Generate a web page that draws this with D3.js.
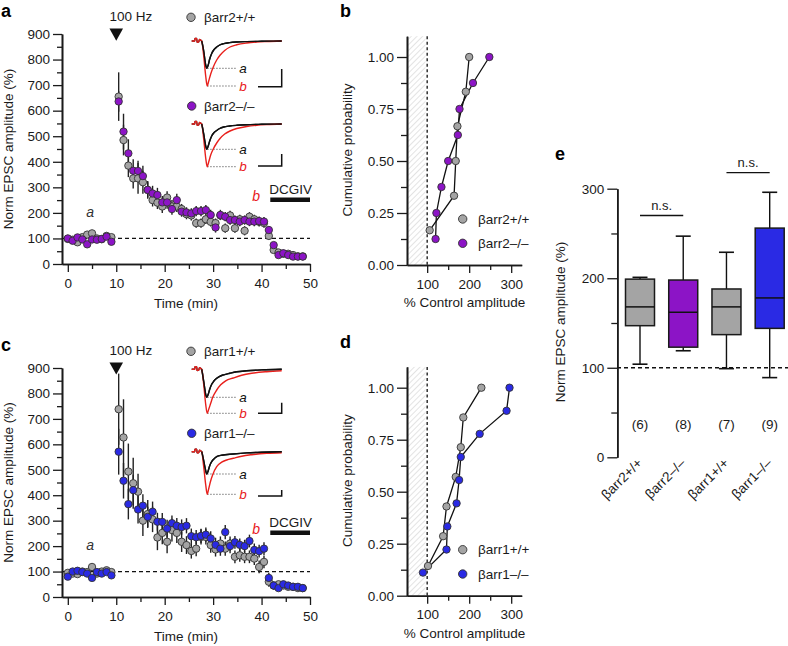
<!DOCTYPE html>
<html><head><meta charset="utf-8">
<script src="https://cdn.jsdelivr.net/npm/d3@7"></script>
<style>
body{margin:0;background:#fff}
svg text{font-family:"Liberation Sans",Arial,Helvetica,sans-serif}
</style></head>
<body><svg id="fig" width="788" height="646"></svg>
<script>
// ---------------- DATA ----------------
const timeMin = [0,1,2,3,4,5,6,7,8,9,10.5,11.5,12.5,13.5,14.5,15.5,16.5,17.5,18.5,19.5,20.5,21.5,22.5,23.5,24.5,25.5,26.5,27.5,28.5,29.5,30.5,31.5,32.5,33.5,34.5,35.5,36.5,37.5,38.5,39.5,40.5,41.5,42.5,43.5,44.5,45.5,46.5,47.5,48.5];

const arr2WT = [98,95,85,105,115,120,100,97,110,105,
  655,485,385,335,335,320,290,250,240,225,260,225,225,215,195,190,160,160,175,165,160,190,140,190,140,175,130,185,175,165,160,110,55,45,40,40,35,30,30];
const arr2WTerr = [10,10,10,10,12,12,10,10,10,10,
  95,60,45,40,60,45,30,25,25,25,25,25,22,20,20,20,18,18,18,18,18,18,18,18,18,18,18,18,18,18,18,15,12,10,8,8,8,8,8];
const arr2KO = [100,91,104,96,77,96,95,98,107,87,
  636,518,433,365,364,344,290,276,270,241,241,215,250,205,202,198,207,207,211,192,143,192,185,172,172,166,172,166,166,168,166,133,74,35,42,35,29,29,29];
const arr2KOerr = [10,10,10,10,12,12,10,10,10,10,
  40,70,55,45,40,40,35,30,28,25,25,22,25,20,20,20,20,20,20,20,20,20,18,18,18,18,18,18,18,18,18,15,12,10,8,8,8,8,8];

const arr1WT = [95,92,90,100,98,118,92,100,105,98,
  738,627,493,447,414,300,326,305,234,252,217,263,252,217,204,181,190,236,236,204,187,210,190,210,158,164,158,158,151,118,138,60,45,50,45,40,40,35,35];
const arr1WTerr = [10,10,10,10,12,12,10,10,10,10,
  140,150,110,100,70,60,55,50,50,45,45,45,40,40,35,30,30,30,30,30,28,28,28,28,25,25,25,25,25,25,25,20,15,10,10,10,8,8,8];
const arr1KO = [80,100,103,98,92,75,98,92,98,85,
  571,457,365,420,344,359,315,335,296,295,269,290,280,275,280,239,235,240,245,230,205,190,255,200,215,205,200,220,185,180,190,75,45,35,50,45,40,40,35];
const arr1KOerr = [10,10,10,10,12,12,10,10,10,10,
  90,70,60,60,55,45,40,40,35,35,35,30,30,30,30,30,28,28,28,28,28,28,28,28,25,25,25,25,25,25,25,20,15,10,10,10,8,8,8];

// cumulative distributions (% control amplitude, cumulative probability)
const cdfArr2WT = [106,164,168,172,192,200];
const probArr2WT = [0.167,0.333,0.5,0.667,0.833,1.0];
const cdfArr2KO = [120,122,134,150,173,177,209,248];
const probArr2KO = [0.125,0.25,0.375,0.5,0.625,0.75,0.875,1.0];
const cdfArr1WT = [102,138,146,168,180,186,229];
const probArr1WT = [0.143,0.286,0.429,0.571,0.714,0.857,1.0];
const cdfArr1KO = [90,146,148,170,176,180,225,289,296];
const probArr1KO = [0.111,0.222,0.333,0.444,0.556,0.667,0.778,0.889,1.0];

// box plot (panel e)
const boxGroups = ["βarr2+/+","βarr2–/–","βarr1+/+","βarr1–/–"];
const boxMin = [104,119,99,89];
const boxQ1  = [147,123,137,144];
const boxMed = [168,162,168,178];
const boxQ3  = [199,198,188,256];
const boxMax = [201,247,229,296];
const boxN   = ["(6)","(8)","(7)","(9)"];

// example EPSC traces (ms, pA-like units)
const artifactTrace = [[0,0],[3,0],[3.3,2.6],[5,2.6],[5.4,-1.2],[7,-0.8],[7.8,1.6],[9.3,0.6],[10,0]];
const traceA1Black = [[10,0],[12,-10],[14,-24],[15,-27.3],[16.5,-24],[18,-18],[20,-12.5],[22,-9],[25,-6],[28,-4],[32,-2.6],[38,-1.6],[45,-1],[55,-0.6],[70,-0.3],[90,0]];
const traceA1Red   = [[10,0],[12,-15],[14,-35],[15.5,-45],[17,-40],[19,-33],[21.6,-26],[25,-19],[28.3,-14.3],[33,-9.5],[38.3,-6],[45,-3.8],[55,-2],[65,-1],[75,-0.5],[90,0]];
const traceA2Black = [[10,0],[12,-10],[14,-22],[15,-25.3],[16.5,-22],[18,-17],[20,-12],[22,-9],[25,-6.5],[28,-4.5],[32,-3],[38,-2],[45,-1.3],[55,-0.7],[70,-0.3],[90,0]];
const traceA2Red   = [[10,0],[12,-15],[14,-34],[15.5,-42.7],[17,-38],[19,-31],[21.6,-25],[25,-19],[28.3,-14.5],[33,-10],[38.3,-7],[45,-4.5],[55,-2.5],[65,-1.3],[75,-0.6],[90,0]];
const traceC1Black = [[10,0],[12,-12],[14,-25],[15,-28],[16.5,-25],[18,-20],[20,-15],[22,-12],[25,-9],[28,-7],[32,-5.5],[38,-4],[45,-2.5],[55,-1.5],[70,-0.6],[90,0]];
const traceC1Red   = [[10,0],[12,-15],[14,-35],[15.5,-44],[17,-40],[19,-34],[21,-28],[25,-20.7],[29,-15.5],[34,-11.5],[41.6,-8.7],[50,-6],[60,-4],[75,-2.4],[90,-1.5]];
const traceC2Black = [[10,0],[12,-9],[14,-19],[15,-22.3],[16.5,-19],[18,-14],[20,-10],[22,-7.5],[25,-5],[30,-3.5],[41.6,-2.3],[55,-1.2],[70,-0.5],[90,0]];
const traceC2Red   = [[10,0],[12,-15],[14,-33],[15.5,-42.6],[17,-37],[19,-29],[21,-23],[25,-15],[30,-10.5],[35,-8.3],[41.6,-6.6],[50,-4.5],[60,-3],[75,-1.6],[90,-1]];

// ---------------- STYLE ----------------
const GRAY = "#a4a4a4", PURPLE = "#8c14c6", BLUE = "#2a2ae4", RED = "#e8201c", EDGE = "#333", INK = "#1a1a1a";
const svg = d3.select("#fig");
const defs = svg.append("defs");
const pat = defs.append("pattern").attr("id","hatch").attr("patternUnits","userSpaceOnUse")
  .attr("width",4).attr("height",4).attr("patternTransform","rotate(45)");
pat.append("line").attr("x1",0).attr("y1",0).attr("x2",0).attr("y2",4).attr("stroke","#c8c8c8").attr("stroke-width",1);

function styleAxis(sel){
  sel.selectAll(".domain").attr("stroke",INK).attr("stroke-width",1.6);
  sel.selectAll(".tick line").attr("stroke",INK).attr("stroke-width",1.3);
  sel.selectAll(".tick text").attr("font-size","13.5px").style("fill",INK)
     .attr("font-family",'"Liberation Sans",Arial,sans-serif');
}
function leftAxis(g, scale, x0, majors, minors, fmt, maj, min){
  const a = g.append("g").attr("transform",`translate(${x0},0)`)
    .call(d3.axisLeft(scale).tickValues(majors).tickFormat(fmt).tickSize(maj).tickSizeOuter(0).tickPadding(3));
  const b = g.append("g").attr("transform",`translate(${x0},0)`)
    .call(d3.axisLeft(scale).tickValues(minors).tickFormat("").tickSize(min).tickSizeOuter(0));
  styleAxis(a); styleAxis(b);
}
function bottomAxis(g, scale, y0, majors, minors, fmt, maj, min, pad){
  const a = g.append("g").attr("transform",`translate(0,${y0})`)
    .call(d3.axisBottom(scale).tickValues(majors).tickFormat(fmt).tickSize(maj).tickSizeOuter(0).tickPadding(pad));
  const b = g.append("g").attr("transform",`translate(0,${y0})`)
    .call(d3.axisBottom(scale).tickValues(minors).tickFormat("").tickSize(min).tickSizeOuter(0));
  styleAxis(a); styleAxis(b);
}
function txt(g, x, y, s, o={}){
  const t = g.append("text").attr("x",x).attr("y",y).text(s)
    .attr("font-size",o.size||"13px").attr("text-anchor",o.anchor||"start")
    .style("fill", o.fill || INK);
  if(o.weight) t.attr("font-weight",o.weight);
  if(o.style) t.attr("font-style",o.style);
  if(o.rotate!==undefined) t.attr("transform",`rotate(${o.rotate},${x},${y})`);
  return t;
}

// ---------------- INSET TRACES ----------------
function inset(g, x0, yBase, black, red, barTop, barBot){
  const x = d3.scaleLinear().domain([0,90]).range([x0, x0+90]);
  const y = d3.scaleLinear().domain([0,-50]).range([yBase, yBase+50]);
  const line = d3.line().x(d=>x(d[0])).y(d=>y(d[1])).curve(d3.curveMonotoneX);
  const pkB = d3.min(black, d=>d[1]), pkR = d3.min(red, d=>d[1]);
  g.append("line").attr("x1",x(15.5)).attr("x2",x(45)).attr("y1",y(pkB)).attr("y2",y(pkB))
    .attr("stroke","#777").attr("stroke-width",1).attr("stroke-dasharray","1.5,1.5");
  g.append("line").attr("x1",x(15.5)).attr("x2",x(45)).attr("y1",y(pkR)).attr("y2",y(pkR))
    .attr("stroke","#777").attr("stroke-width",1).attr("stroke-dasharray","1.5,1.5");
  g.append("path").attr("d",line(artifactTrace.concat(black.slice(1)))).attr("fill","none").attr("stroke","#111").attr("stroke-width",1.4);
  g.append("path").attr("d",line(artifactTrace.concat(red.slice(1)))).attr("fill","none").attr("stroke",RED).attr("stroke-width",1.4);
  g.append("path").attr("d",line(black)).attr("fill","none").attr("stroke","#111").attr("stroke-width",1.4);
  txt(g, x(47.5), y(pkB)+4.5, "a", {style:"italic", size:"13.5px", fill:"#111"});
  txt(g, x(47.5), y(pkR)+4.5, "b", {style:"italic", size:"13.5px", fill:RED});
  g.append("path").attr("d",`M${x(66.3)},${y(barBot)}H${x(90)}V${y(barTop)}`)
    .attr("fill","none").attr("stroke","#111").attr("stroke-width",1.5);
}

// ---------------- TIME COURSE PANELS ----------------
function timePanel(o){
  const g = svg.append("g");
  const x = d3.scaleLinear().domain([-1.2,50]).range([62,310]);
  const y = d3.scaleLinear().domain([0,900]).range([o.y0, o.y900]);
  g.append("line").attr("x1",x(-1.2)).attr("x2",x(50)).attr("y1",y(100)).attr("y2",y(100))
    .attr("stroke","#111").attr("stroke-width",1.3).attr("stroke-dasharray","4,3");
  [o.wt, o.ko].forEach(s=>{
    g.append("g").selectAll("line").data(timeMin).join("line")
      .attr("x1",d=>x(d)).attr("x2",d=>x(d))
      .attr("y1",(d,i)=>y(Math.max(0,s.v[i]-s.e[i]))).attr("y2",(d,i)=>y(s.v[i]+s.e[i]))
      .attr("stroke","#222").attr("stroke-width",1.4);
  });
  [o.wt, o.ko].forEach(s=>{
    g.append("g").selectAll("circle").data(timeMin).join("circle")
      .attr("cx",d=>x(d)).attr("cy",(d,i)=>y(s.v[i])).attr("r",3.7)
      .attr("fill",s.c).attr("stroke",EDGE).attr("stroke-width",0.9);
  });
  leftAxis(g, y, 62, d3.range(0,901,100), d3.range(50,900,100), d3.format("d"), 9, 5);
  bottomAxis(g, x, o.y0, [0,10,20,30,40,50], [5,15,25,35,45], d3.format("d"), 8, 5, 6);
  txt(g, 13, (o.y0+o.y900)/2, "Norm EPSC amplitude (%)", {anchor:"middle", rotate:-90, size:"13.5px"});
  txt(g, 186, o.y0+44, "Time (min)", {anchor:"middle", size:"13.5px"});
  txt(g, 1, o.y900-17, o.letter, {weight:"bold", size:"18px", fill:"#000"});
  g.append("path").attr("d",`M${x(10)-6.8},${y(922)}H${x(10)+6.8}L${x(10)},${y(874)}Z`).attr("fill","#111");
  txt(g, x(13), y(952), "100 Hz", {anchor:"middle", size:"13.5px"});
  txt(g, x(4.6), o.y0-47, "a", {anchor:"middle", style:"italic", size:"14px", fill:"#333"});
  txt(g, x(38.9), o.y0-63, "b", {anchor:"middle", style:"italic", size:"14px", fill:RED});
  txt(g, x(46), o.y0-70.5, "DCGIV", {anchor:"middle", size:"13.5px"});
  g.append("rect").attr("x",x(41.8)).attr("width",x(50)-x(41.8)).attr("y",o.y0-66.5).attr("height",4.5).attr("fill","#111");
  g.append("circle").attr("cx",191).attr("cy",o.y900-16.7).attr("r",4.2).attr("fill",GRAY).attr("stroke",EDGE).attr("stroke-width",0.9);
  txt(g, 204, o.y900-12, o.wtName, {size:"13.5px"});
  g.append("circle").attr("cx",191.7).attr("cy",o.y900+o.leg2).attr("r",4.2).attr("fill",o.ko.c).attr("stroke",EDGE).attr("stroke-width",0.9);
  txt(g, 204, o.y900+o.leg2+4.6, o.koName, {size:"13.5px"});
  inset(g, 191.7, o.in1, o.tr[0], o.tr[1], o.bar1[0], o.bar1[1]);
  inset(g, 191.7, o.in2, o.tr[2], o.tr[3], o.bar2[0], o.bar2[1]);
}

timePanel({y0:264, y900:34, letter:"a", wtName:"βarr2+/+", koName:"βarr2–/–",
  wt:{v:arr2WT, e:arr2WTerr, c:GRAY}, ko:{v:arr2KO, e:arr2KOerr, c:PURPLE}, leg2:72,
  in1:41, in2:124, tr:[traceA1Black,traceA1Red,traceA2Black,traceA2Red], bar1:[-28,-45.7], bar2:[-30,-42]});
timePanel({y0:597, y900:368, letter:"c", wtName:"βarr1+/+", koName:"βarr1–/–",
  wt:{v:arr1WT, e:arr1WTerr, c:GRAY}, ko:{v:arr1KO, e:arr1KOerr, c:BLUE}, leg2:65.3,
  in1:369.3, in2:451.7, tr:[traceC1Black,traceC1Red,traceC2Black,traceC2Red], bar1:[-33.4,-44], bar2:[-38.3,-44.3]});

// ---------------- CUMULATIVE PANELS ----------------
function cdfPanel(o){
  const g = svg.append("g");
  const x = d3.scaleLinear().domain([52,325]).range([407,521.7]);
  const y = d3.scaleLinear().domain([0,1.1]).range([o.y0, o.y0-228.8]);
  g.append("rect").attr("x",x(52)).attr("y",y(1.1)).attr("width",x(96)-x(52)).attr("height",y(0)-y(1.1)).attr("fill","url(#hatch)");
  g.append("line").attr("x1",x(100)).attr("x2",x(100)).attr("y1",y(1.1)).attr("y2",y(0))
    .attr("stroke","#111").attr("stroke-width",1.3).attr("stroke-dasharray","3,2.5");
  const line = d3.line().x(d=>x(d[0])).y(d=>y(d[1]));
  o.series.forEach(s=>{
    g.append("path").attr("d",line(s.v.map((v,i)=>[v,s.p[i]]))).attr("fill","none").attr("stroke","#111").attr("stroke-width",1.3);
  });
  o.series.forEach(s=>{
    g.append("g").selectAll("circle").data(s.v).join("circle")
      .attr("cx",d=>x(d)).attr("cy",(d,i)=>y(s.p[i])).attr("r",3.7)
      .attr("fill",s.c).attr("stroke",EDGE).attr("stroke-width",0.9);
  });
  leftAxis(g, y, 407, [0,0.25,0.5,0.75,1.0], [0.125,0.375,0.625,0.875], d3.format(".2f"), 10, 6);
  bottomAxis(g, x, o.y0, [100,200,300], [150,250], d3.format("d"), 8, 5, 6);
  txt(g, 352, o.y0-115, "Cumulative probability", {anchor:"middle", rotate:-90, size:"13.5px"});
  txt(g, 464.5, o.y0+42, "% Control amplitude", {anchor:"middle", size:"13.5px"});
  txt(g, 340, o.y0-248, o.letter, {weight:"bold", size:"18px", fill:"#000"});
  o.series.forEach((s,i)=>{
    g.append("circle").attr("cx",462.7).attr("cy",o.y0-46+i*24.3).attr("r",4.2).attr("fill",s.c).attr("stroke",EDGE).attr("stroke-width",0.9);
    txt(g, 478, o.y0-41.5+i*24.3, s.name, {size:"13.5px"});
  });
}
cdfPanel({y0:265, letter:"b", series:[
  {v:cdfArr2WT, p:probArr2WT, c:GRAY, name:"βarr2+/+"},
  {v:cdfArr2KO, p:probArr2KO, c:PURPLE, name:"βarr2–/–"}]});
cdfPanel({y0:595.7, letter:"d", series:[
  {v:cdfArr1WT, p:probArr1WT, c:GRAY, name:"βarr1+/+"},
  {v:cdfArr1KO, p:probArr1KO, c:BLUE, name:"βarr1–/–"}]});

// ---------------- BOX PLOT PANEL ----------------
(function(){
  const g = svg.append("g");
  const y = d3.scaleLinear().domain([0,300]).range([457.3,188.7]);
  const x = d3.scalePoint().domain(boxGroups).range([640,769.7]);
  const fills = [GRAY, PURPLE, GRAY, BLUE];
  const bw = 29, cw = 15;
  g.append("line").attr("x1",617).attr("x2",788).attr("y1",y(100)).attr("y2",y(100))
    .attr("stroke","#111").attr("stroke-width",1.3).attr("stroke-dasharray","4,3");
  boxGroups.forEach((k,i)=>{
    const cx = x(k);
    g.append("line").attr("x1",cx).attr("x2",cx).attr("y1",y(boxMax[i])).attr("y2",y(boxQ3[i])).attr("stroke","#111").attr("stroke-width",1.4);
    g.append("line").attr("x1",cx).attr("x2",cx).attr("y1",y(boxQ1[i])).attr("y2",y(boxMin[i])).attr("stroke","#111").attr("stroke-width",1.4);
    g.append("line").attr("x1",cx-cw/2).attr("x2",cx+cw/2).attr("y1",y(boxMax[i])).attr("y2",y(boxMax[i])).attr("stroke","#111").attr("stroke-width",1.6);
    g.append("line").attr("x1",cx-cw/2).attr("x2",cx+cw/2).attr("y1",y(boxMin[i])).attr("y2",y(boxMin[i])).attr("stroke","#111").attr("stroke-width",1.6);
    g.append("rect").attr("x",cx-bw/2).attr("width",bw).attr("y",y(boxQ3[i])).attr("height",y(boxQ1[i])-y(boxQ3[i]))
      .attr("fill",fills[i]).attr("stroke",INK).attr("stroke-width",1.5);
    g.append("line").attr("x1",cx-bw/2).attr("x2",cx+bw/2).attr("y1",y(boxMed[i])).attr("y2",y(boxMed[i])).attr("stroke","#111").attr("stroke-width",1.5);
    txt(g, cx, y(37)+4.5, boxN[i], {anchor:"middle", size:"13.5px"});
    txt(g, cx+3, 464, k, {anchor:"end", rotate:-45, size:"13.5px"});
  });
  [[0,1,270],[2,3,318]].forEach(b=>{
    g.append("line").attr("x1",x(boxGroups[b[0]])).attr("x2",x(boxGroups[b[1]])).attr("y1",y(b[2])).attr("y2",y(b[2])).attr("stroke","#111").attr("stroke-width",1.4);
    txt(g, (x(boxGroups[b[0]])+x(boxGroups[b[1]]))/2, y(b[2])-6, "n.s.", {anchor:"middle", size:"13px"});
  });
  leftAxis(g, y, 617.3, [0,100,200,300], [50,150,250], d3.format("d"), 10, 6);
  txt(g, 565, 322, "Norm  EPSC amplitude (%)", {anchor:"middle", rotate:-90, size:"13.5px"});
  txt(g, 555, 160, "e", {weight:"bold", size:"18px", fill:"#000"});
})();
</script>
</body></html>
